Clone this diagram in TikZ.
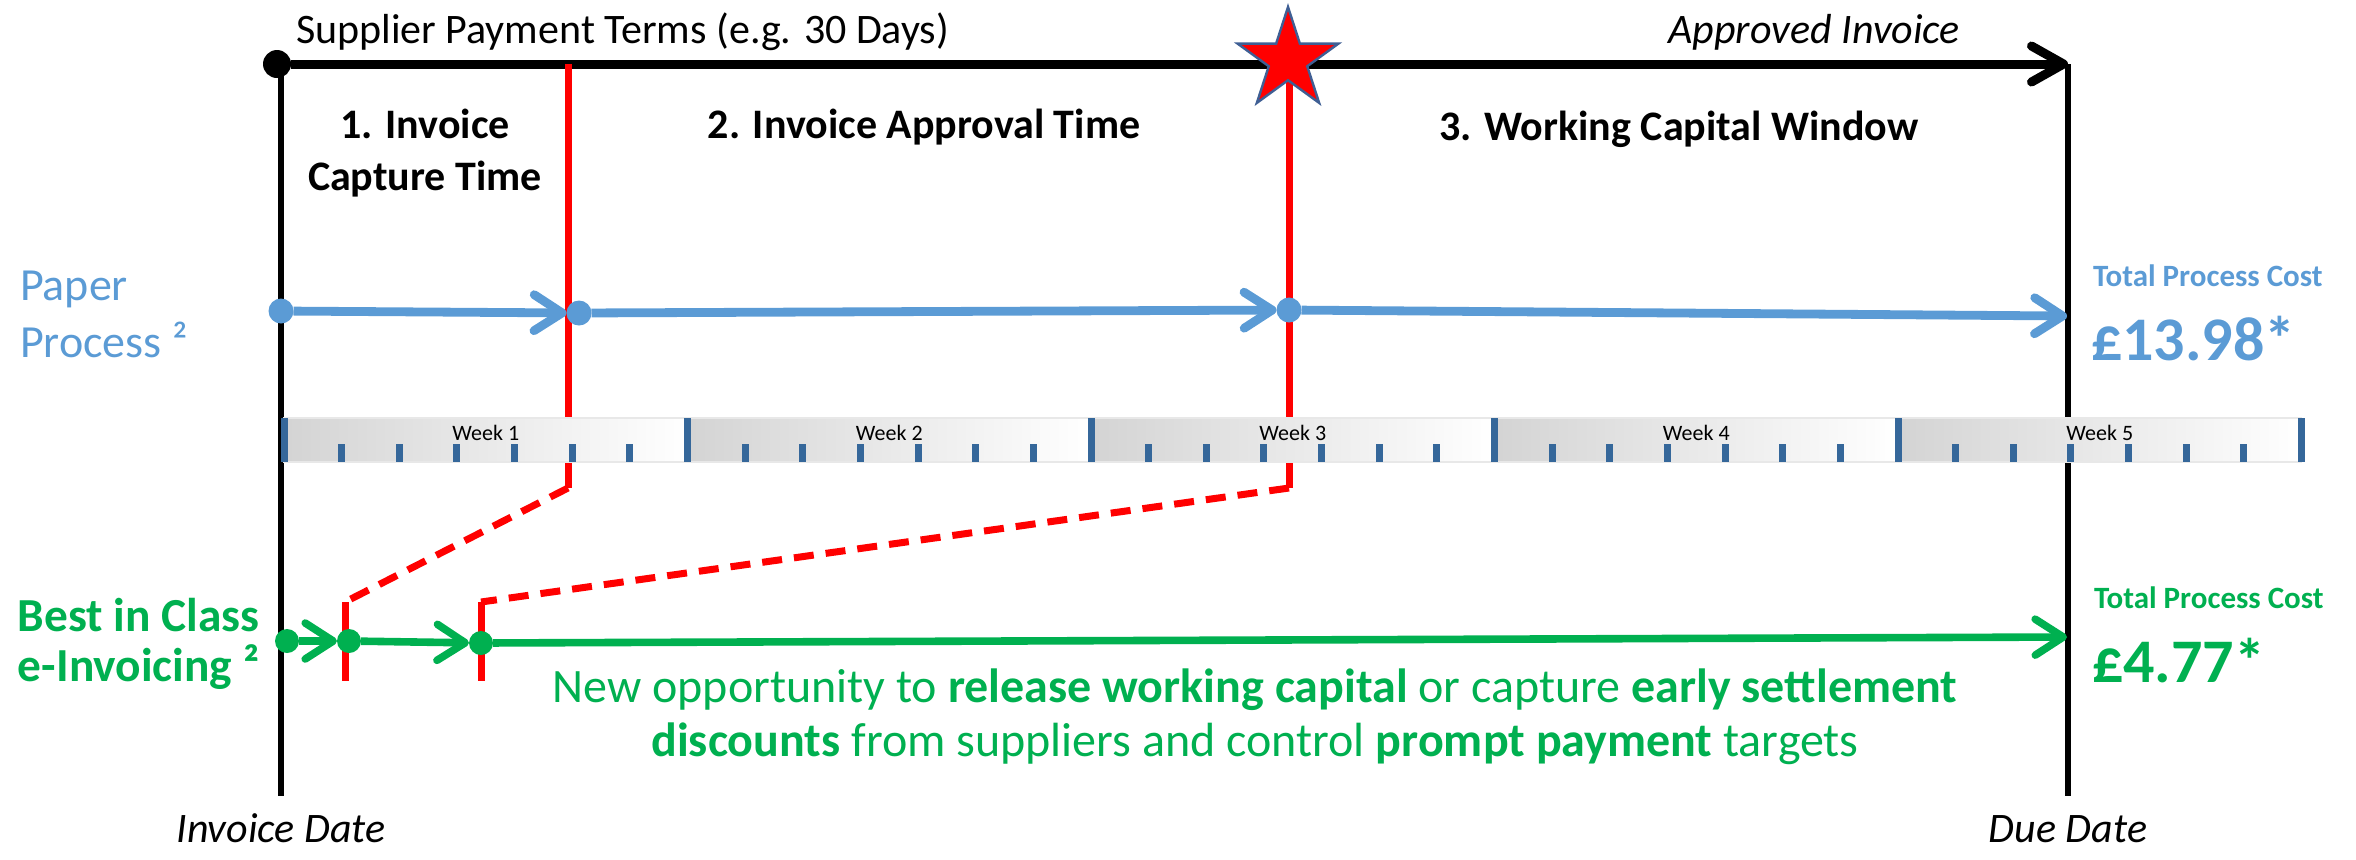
\documentclass[tikz,border=0pt]{standalone}
\usepackage{fontspec}
\setmainfont{Carlito}
\usetikzlibrary{positioning}
\usetikzlibrary{arrows.meta,shapes.geometric}
\definecolor{paperblue}{HTML}{5B9BD5}
\definecolor{einvgreen}{HTML}{00B050}
\definecolor{tickblue}{HTML}{35679A}
\definecolor{staredge}{HTML}{3F5F94}

\begin{document}
\begin{tikzpicture}[x=0.5pt,y=-0.5pt,
  every node/.style={inner sep=0pt,outer sep=0pt},
  timeline/.style={line width=2.8pt},
  redline/.style={red,line width=3.5pt},
  reddash/.style={red,line width=3.5pt,dash pattern=on 10pt off 6pt},
  flow/.style={line width=#1,-{Straight Barb[length=14pt,width=18pt,round]}},
  blob/.style={circle,fill,minimum size=#1}]
\useasboundingbox (0,0) rectangle (2356,859);
% frame of the payment terms
\coordinate (topL) at (281,64);
\coordinate (botL) at (281,796);
\coordinate (topR) at (2068,64);
\coordinate (botR) at (2068,796);
\draw[timeline] (topL) -- (botL);
\draw[timeline] (topR) -- (botR);
\node[blob=14pt] (start) at (277,64) {};
\draw[line width=4.5pt,-{Straight Barb[length=16pt,width=18pt,round]}] (start) -- (topR);
\node[anchor=base west,font=\fontsize{21}{25}\selectfont] (terms) at (296,43) {Supplier Payment Terms (e.g. 30 Days)};
\node[anchor=base east,font=\fontsize{21}{25}\selectfont\itshape] (apprlbl) at (1960,43) {Approved Invoice};
\node[anchor=base,font=\fontsize{21}{25}\selectfont\itshape] (invdate) at (281,842) {Invoice Date};
\node[anchor=base,font=\fontsize{21}{25}\selectfont\itshape] (duedate) at (2068,842) {Due Date};
% stage borders
\coordinate (capTop) at (568,64);
\coordinate (capLow) at (568,488);
\coordinate (capE) at (345,602);
\coordinate (capEend) at (345,681);
\coordinate (apprTop) at (1289,64);
\coordinate (apprLow) at (1289,488);
\coordinate (apprE) at (481,602);
\coordinate (apprEend) at (481,681);
\draw[redline] (capTop) -- (capLow);
\draw[reddash] (capLow) -- (capE);
\draw[redline] (capE) -- (capEend);
\draw[redline] (apprTop) -- (apprLow);
\draw[reddash] (apprLow) -- (apprE);
\draw[redline] (apprE) -- (apprEend);
\node[star,star points=5,star point ratio=2.62,minimum size=53pt,fill=red,draw=staredge,line width=1.2pt] (approved) at (1288,60) {};
\node[anchor=base,font=\fontsize{21}{25}\selectfont\bfseries] (stage1) at (425,138) {1. Invoice};
\node[anchor=base,font=\fontsize{21}{25}\selectfont\bfseries] (stage1b) at (425,190) {Capture Time};
\node[anchor=base,font=\fontsize{21}{25}\selectfont\bfseries] (stage2) at (924,138) {2. Invoice Approval Time};
\node[anchor=base,font=\fontsize{21}{25}\selectfont\bfseries] (stage3) at (1679,140) {3. Working Capital Window};
% weeks
\foreach \w in {1,...,5} {
  \pgfmathsetmacro\xa{284+(\w-1)*403.5}
  \shade[left color=black!17,right color=white,draw=black!9,line width=0.6pt] (\xa,418) rectangle ++(403.5,44);
  \node[anchor=base,font=\fontsize{11}{13}\selectfont] (week\w) at (\xa+201.75,440) {Week \w};
  \foreach \d in {1,...,6}
    \fill[tickblue] (\xa+\d*57.64-3.5,444) rectangle ++(7,18);
}
\foreach \m in {0,...,5}
  \fill[tickblue] (284+\m*403.5-3.5,418) rectangle ++(7,44);
% paper process
\node[anchor=base west,paperblue,font=\fontsize{23}{27}\selectfont] (paperA) at (20,300) {Paper};
\node[anchor=base west,paperblue,font=\fontsize{23}{27}\selectfont] (paperB) at (20,357) {Process ²};
\node[blob=12.5pt,paperblue] (p0) at (281,311) {};
\node[blob=12.5pt,paperblue] (p1) at (579,313) {};
\node[blob=12.5pt,paperblue] (p2) at (1289,310) {};
\coordinate (pEnd) at (2067,316);
\draw[flow=4.4pt,paperblue] (p0) -- (p1);
\draw[flow=4.4pt,paperblue] (p1) -- (p2);
\draw[flow=4.4pt,paperblue] (p2) -- (pEnd);
\node[anchor=base west,paperblue,font=\fontsize{15.5}{18}\selectfont\bfseries] (paperCostLbl) at (2093,286) {Total Process Cost};
\node[anchor=base west,paperblue,font=\fontsize{31}{36}\selectfont\bfseries] (paperCost) at (2091,360) {£13.98*};
% e-invoicing
\node[anchor=base west,einvgreen,font=\fontsize{23.7}{28}\selectfont\bfseries] (einvA) at (18,631) {Best in Class};
\node[anchor=base west,einvgreen,font=\fontsize{23.7}{28}\selectfont\bfseries] (einvB) at (18,681) {e-Invoicing ²};
\node[blob=12pt,einvgreen] (e0) at (287,641) {};
\node[blob=12pt,einvgreen] (e1) at (349,641) {};
\node[blob=12pt,einvgreen] (e2) at (481,643) {};
\coordinate (eEnd) at (2067,637);
\draw[flow=3.8pt,einvgreen] (e0) -- (e1);
\draw[flow=3.8pt,einvgreen] (e1) -- (e2);
\draw[flow=3.8pt,einvgreen] (e2) -- (eEnd);
\node[anchor=base west,einvgreen,font=\fontsize{15.5}{18}\selectfont\bfseries] (einvCostLbl) at (2094,608) {Total Process Cost};
\node[anchor=base west,einvgreen,font=\fontsize{31}{36}\selectfont\bfseries] (einvCost) at (2092,682) {£4.77*};
\node[anchor=base,einvgreen,font=\fontsize{24}{27}\selectfont] (oppA) at (1255,702) {New opportunity to \textbf{release working capital} or capture \textbf{early settlement}};
\node[anchor=base,einvgreen,font=\fontsize{24}{27}\selectfont] (oppB) at (1255,756) {\textbf{discounts} from suppliers and control \textbf{prompt payment} targets};
\end{tikzpicture}
\end{document}
